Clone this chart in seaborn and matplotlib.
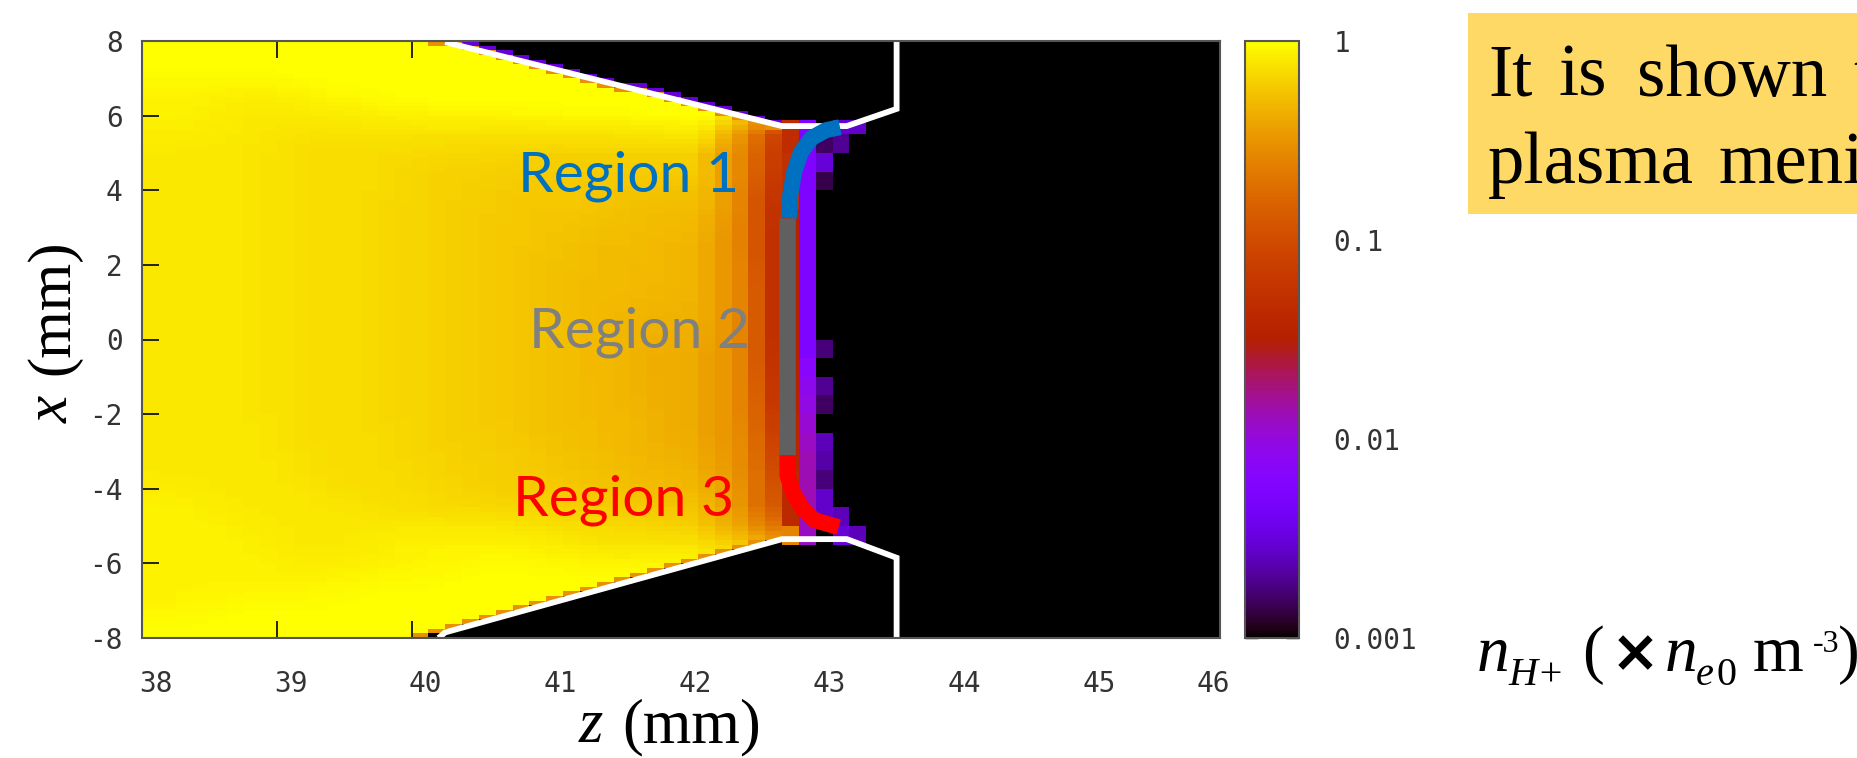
import matplotlib
matplotlib.use("Agg")
import matplotlib.pyplot as plt
from matplotlib.colors import LogNorm
from matplotlib.patches import Rectangle
from matplotlib.transforms import ScaledTranslation
import numpy as np
import pandas as pd
import seaborn as sns

W, H = 1857, 758

# Density levels, one string per 0.5 mm row (x = 8 .. -8),
# one character per 0.125 mm column (z = 38 ...). 0-9a-zA-Z = colour-scale level 0..61.
density_rows = [
    "ZZZZZZZZZZZZZZZZZZZZZZZZ",
    "ZZZZZZZZZZZZZZZZZZZZZZZZZZZZ",
    "YYYYYYYYYZZZZZZZZZZZZZZZZZZZZZZZ",
    "YYYYYXXXXXXYYYYZZZZZZZZZZZZZZZZZZZZZ",
    "YYYYXXXXXXXXXXXXXXXXXXXYYYYYYYZZZZVRMFyf0a9",
    "XXXXXXXXWWWWWWWWWWWWWWVVVVVVVVVVVTQNICyf46",
    "XXXXXXXXWWWWWWWWVVVVVVVVVVVVVVVVVTQOJCzfa",
    "XXXXXXXXWWWWWWWWVVVVVVUUUUUUUUUUUTQNHBzf3",
    "XXXXXXXXWWWWWWWVVVVVVUUUUUUUUTTTTSQNGAzf",
    "XXXXXXXXWWWWWWWVVVVVUUUUUUUUTTTTTSQNGzvf",
    "XXXXXXXXWWWWWWWVVVVVUUUUUTTTTTTTSRPMGzvf",
    "XXXXXXXXWWWWWWWVVVVVUUUUUTTTTTTSSRPNGzvf",
    "XXXXXXXXWWWWWWWVVVVVUUUUTTTTTTTSSRPNHzvf",
    "XXXXXXXXWWWWWWWVVVVVUUUUTTTTTTTSSRPNHzvf",
    "XXXXXXXXWWWWWWWVVVVVUUUUTTTTSSSSSRPNHzvf",
    "XXXXXXXXWWWWWWWVVVVVUUUUTTTTSSSSSRPNHzvf",
    "XXXXXXXXWWWWWWWVVVVVUUUUTTTTSSSRRQPNHzvf5",
    "XXXXXXXXWWWWWWWVVVVVUUUUTTTTSSSRRQPNHAvh",
    "XXXXXXXXWWWWWWWVVVVVUUUUTTTTSSSRRQPNIAvj6",
    "XXXXXXXXWWWWWWWVVVVVUUUUTTTTTSSRRQPNIBvk4",
    "XXXXXXXXWWWWWWWVVVVVUUUUTTTTTSSSRQPNJCwl",
    "XXXXXXXXXWWWWWWWVVVVVUUUUTTTTSSSRQPOJDwm8",
    "XXXXXXXXXWWWWWWWVVVVVVUUUUTTTTSSSRQOKEwn7",
    "XXXXXXXXXXWWWWWWWVVVVVUUUUUTTTTSSRQOKFxn5",
    "YYYXXXXXXXXXWWWWWWWVVVVVVUUUUUTTTSRPLHxn9",
    "YYYYYXXXXXXXXXXWWWWWWWWWVVVVVVVVUTRPKHxm98",
    "YYYYYYYXXXXXXXXYYYYYYYYXXXXXWWWWVUTSRPNm0a8",
    "YYYYYYYYXXXXXYYYYYYYYYYYYXXXXXXYYYYXWU",
    "YYYYYYYYYYYYYYYYYYZZZZZZZZZZZZZZZY",
    "YYYYYYYYYYYYZZZZZZZZZZZZZZZZZZZZ",
    "YYYYZZZZZZZZZZZZZZZZZZZZZZZZZ",
    "ZZZZZZZZZZZZZZZZZZZZZZZZZZZ",
]
level_chars = "0123456789abcdefghijklmnopqrstuvwxyzABCDEFGHIJKLMNOPQRSTUVWXYZ"

# Plasma edge per column (x, mm) for z-columns 0..37
upper_edge = [8.0] * 17 + [7.97, 7.94, 7.83, 7.72, 7.60, 7.49, 7.37, 7.26, 7.15, 7.03, 6.92, 6.81,
                           6.69, 6.58, 6.46, 6.35, 6.24, 6.12, 6.01, 5.90, 5.78]
lower_edge = [-8.0] * 16 + [-7.95, -7.87, -7.79, -7.66, -7.54, -7.41, -7.29, -7.16, -7.04, -6.91, -6.79, -6.66,
                            -6.54, -6.41, -6.29, -6.16, -6.04, -5.91, -5.79, -5.66, -5.54, -5.41]
flat_upper = 5.72
flat_lower = -5.35
edge_level = 0.3
fringe_level = 0.003

# Electrode outline (white)
wall_upper_z = [40.25, 42.75, 43.23, 43.60, 43.60]
wall_upper_x = [7.97, 5.72, 5.72, 6.18, 8.0]
wall_lower_z = [40.20, 40.25, 42.75, 43.23, 43.60, 43.60]
wall_lower_x = [-8.0, -7.85, -5.35, -5.35, -5.85, -8.0]

# Meniscus regions
region1_z = [43.18, 43.076, 42.97, 42.89, 42.84, 42.81, 42.80]
region1_x = [5.69, 5.61, 5.40, 5.02, 4.49, 3.87, 3.25]
region2_z = [42.79, 42.79]
region2_x = [3.25, -3.10]
region3_z = [42.79, 42.79, 42.83, 42.90, 42.99, 43.17]
region3_x = [-3.10, -3.64, -4.09, -4.52, -4.84, -5.03]

z_ticks = [38, 39, 40, 41, 42, 43, 44, 45, 46]
x_ticks = [-8, -6, -4, -2, 0, 2, 4, 6, 8]
cbar_major = [0.001, 0.01, 0.1, 1]
cbar_labels = ["0.001", "0.01", "0.1", "1"]
cbar_minor = [m * d for d in (0.001, 0.01, 0.1) for m in range(2, 10)]

# ---------------------------------------------------------------- build the grid
n_cols, n_rows = 64, 128
log_levels = np.zeros((n_rows, n_cols))
for r, row in enumerate(density_rows):
    padded = row.ljust(38, row[-1]).ljust(n_cols, "0")
    log_levels[4 * r:4 * r + 4, :] = [level_chars.index(c) for c in padded]


def soften(values, window):
    # the source image is blurred by its rendering; soften the 0.5 mm table steps the same way
    pad = window // 2
    return np.convolve(np.pad(values, pad, mode="edge"), np.ones(window) / window, mode="valid")


for c in range(38):
    log_levels[:, c] = soften(log_levels[:, c], 9)
for r in range(n_rows):
    log_levels[r, :33] = soften(log_levels[r, :33], 5)

levels = 10 ** (-3 + 3 * log_levels / 61)
x_centres = 8 - (np.arange(n_rows) + 0.5) * 0.125
for c in range(n_cols):
    column = levels[:, c]
    up = upper_edge[c] if c < len(upper_edge) else flat_upper
    lo = lower_edge[c] if c < len(lower_edge) else flat_lower
    column[x_centres > up + 0.125] = 0.001
    column[x_centres < lo - 0.125] = 0.001
    if c <= 37:
        if up < 8:
            column[(x_centres > up) & (x_centres <= up + 0.125)] = fringe_level
            column[(x_centres <= up) & (x_centres > up - 0.125)] = edge_level
        if lo > -8:
            column[(x_centres < lo) & (x_centres >= lo - 0.125)] = 0.001
            column[(x_centres >= lo) & (x_centres < lo + 0.125)] = edge_level
frame = pd.DataFrame(levels)

# ---------------------------------------------------------------- figure
sns.set_theme(style="white")
plt.rcParams["font.family"] = ["Liberation Serif", "DejaVu Sans"]
fig = plt.figure(figsize=(W / 100, H / 100), dpi=100, facecolor="white")


def box(l, t, r, b):
    return [l / W, 1 - b / H, (r - l) / W, (b - t) / H]


def px_text(px, py, s, **kw):
    return fig.text(px / W, 1 - py / H, s, **kw)


AX = box(142, 41, 1220, 638)
ax = fig.add_axes(AX)
cax = fig.add_axes(box(1245, 41, 1299, 638))
sns.heatmap(frame, ax=ax, cbar_ax=cax, cmap="gnuplot", norm=LogNorm(vmin=0.001, vmax=1),
            xticklabels=False, yticklabels=False, cbar=True)
ax.set_xlabel("")
ax.set_ylabel("")
ax.tick_params(left=False, bottom=False)

# data-coordinate overlay
ov = fig.add_axes(AX, facecolor="none")
ov.set_xlim(38, 46)
ov.set_ylim(-8, 8)
ov.plot(wall_upper_z, wall_upper_x, color="white", lw=4.2, solid_joinstyle="miter", solid_capstyle="butt")
ov.plot(wall_lower_z, wall_lower_x, color="white", lw=4.2, solid_joinstyle="miter", solid_capstyle="butt")
ov.plot(region1_z, region1_x, color="#0070C0", lw=11.5, solid_capstyle="butt")
ov.plot(region2_z, region2_x, color="#606060", lw=12, solid_capstyle="butt")
ov.plot(region3_z, region3_x, color="#FF0000", lw=11.5, solid_capstyle="butt")
ov.grid(False)
for s in ov.spines.values():
    s.set_color("#555555")
    s.set_linewidth(1.5)

MONO = "DejaVu Sans Mono"
tick_col = "#333333"
ov.set_xticks(z_ticks)
ov.set_xticklabels([str(t) for t in z_ticks], family=MONO, fontsize=20, color=tick_col)
ov.set_yticks(x_ticks)
ov.set_yticklabels([str(t) for t in x_ticks], family=MONO, fontsize=20, color=tick_col)
ov.tick_params(axis="both", direction="in", length=12.5, width=1.2, color="black",
               top=True, right=True, bottom=True, left=True)
ov.tick_params(axis="x", pad=23)
ov.tick_params(axis="y", pad=14)
for i, lab in enumerate(ov.get_xticklabels()):
    dx = -7 if i == len(z_ticks) - 1 else 14
    lab.set_transform(lab.get_transform() + ScaledTranslation(dx / 100, 0, fig.dpi_scale_trans))

# colour bar
cb = ax.collections[0].colorbar
cb.outline.set_edgecolor("#555555")
cb.outline.set_linewidth(1.5)
cax.set_yticks(cbar_major)
cax.set_yticklabels(cbar_labels, family=MONO, fontsize=20, color=tick_col)
cax.set_yticks(cbar_minor, minor=True)
cax.tick_params(axis="y", which="major", direction="in", length=9.5, width=1.0, color="black",
                left=True, right=True, pad=25)
cax.tick_params(axis="y", which="minor", direction="in", length=5, width=1.0, color="black",
                left=True, right=True)

# axis titles
px_text(579, 742, "z", family="Liberation Serif", style="italic", fontsize=45, ha="left", va="baseline", color="black")
px_text(622, 742, "(mm)", family="Liberation Serif", fontsize=45, ha="left", va="baseline", color="black")
px_text(68, 423, "x", family="Liberation Serif", style="italic", fontsize=44, rotation=90, rotation_mode="anchor",
        ha="left", va="baseline", color="black")
px_text(68, 375, "(mm)", family="Liberation Serif", fontsize=44, rotation=90, rotation_mode="anchor",
        ha="left", va="baseline", color="black")

# region labels
px_text(518, 192, "Region 1", family="Lato", fontsize=41, color="#0070C0", va="baseline")
px_text(529, 348, "Region 2", family="Lato", fontsize=41, color="#808080", va="baseline")
px_text(513, 516, "Region 3", family="Lato", fontsize=41, color="#FF0000", va="baseline")

# note box (runs off the page in the source)
fig.patches.append(Rectangle((1468 / W, 1 - 214 / H), (W - 1468) / W, 201 / H, transform=fig.transFigure,
                             facecolor="#FFD966", edgecolor="none"))
note_kw = dict(family="Liberation Serif", fontsize=52.4, color="black", va="baseline")
px_text(1488, 96, "It", **note_kw)
px_text(1559, 96, "is", **note_kw)
px_text(1637, 96, "shown", **note_kw)
px_text(1853, 96, "t", **note_kw)
px_text(1488, 183, "plasma", **note_kw)
px_text(1718, 183, "meni", **note_kw)

# unit label
big = dict(family="Liberation Serif", fontsize=47, color="black", va="baseline")
small = dict(family="Liberation Serif", fontsize=29, color="black", va="baseline")
px_text(1477, 671, "n", style="italic", **big)
px_text(1508, 685, "H+", style="italic", **small)
px_text(1582, 671, "(", **big)
px_text(1611, 671, "\u00d7", family="DejaVu Sans", weight="bold", fontsize=42, color="black", va="baseline")
px_text(1665, 671, "n", style="italic", **big)
px_text(1696, 685, "e", style="italic", **small)
px_text(1716, 685, "0", **small)
px_text(1753, 671, "m", **big)
px_text(1813, 652, "-3", family="Liberation Serif", fontsize=23, color="black", va="baseline")
px_text(1838, 671, ")", **big)

fig.savefig("out.png", dpi=100, facecolor="white")
